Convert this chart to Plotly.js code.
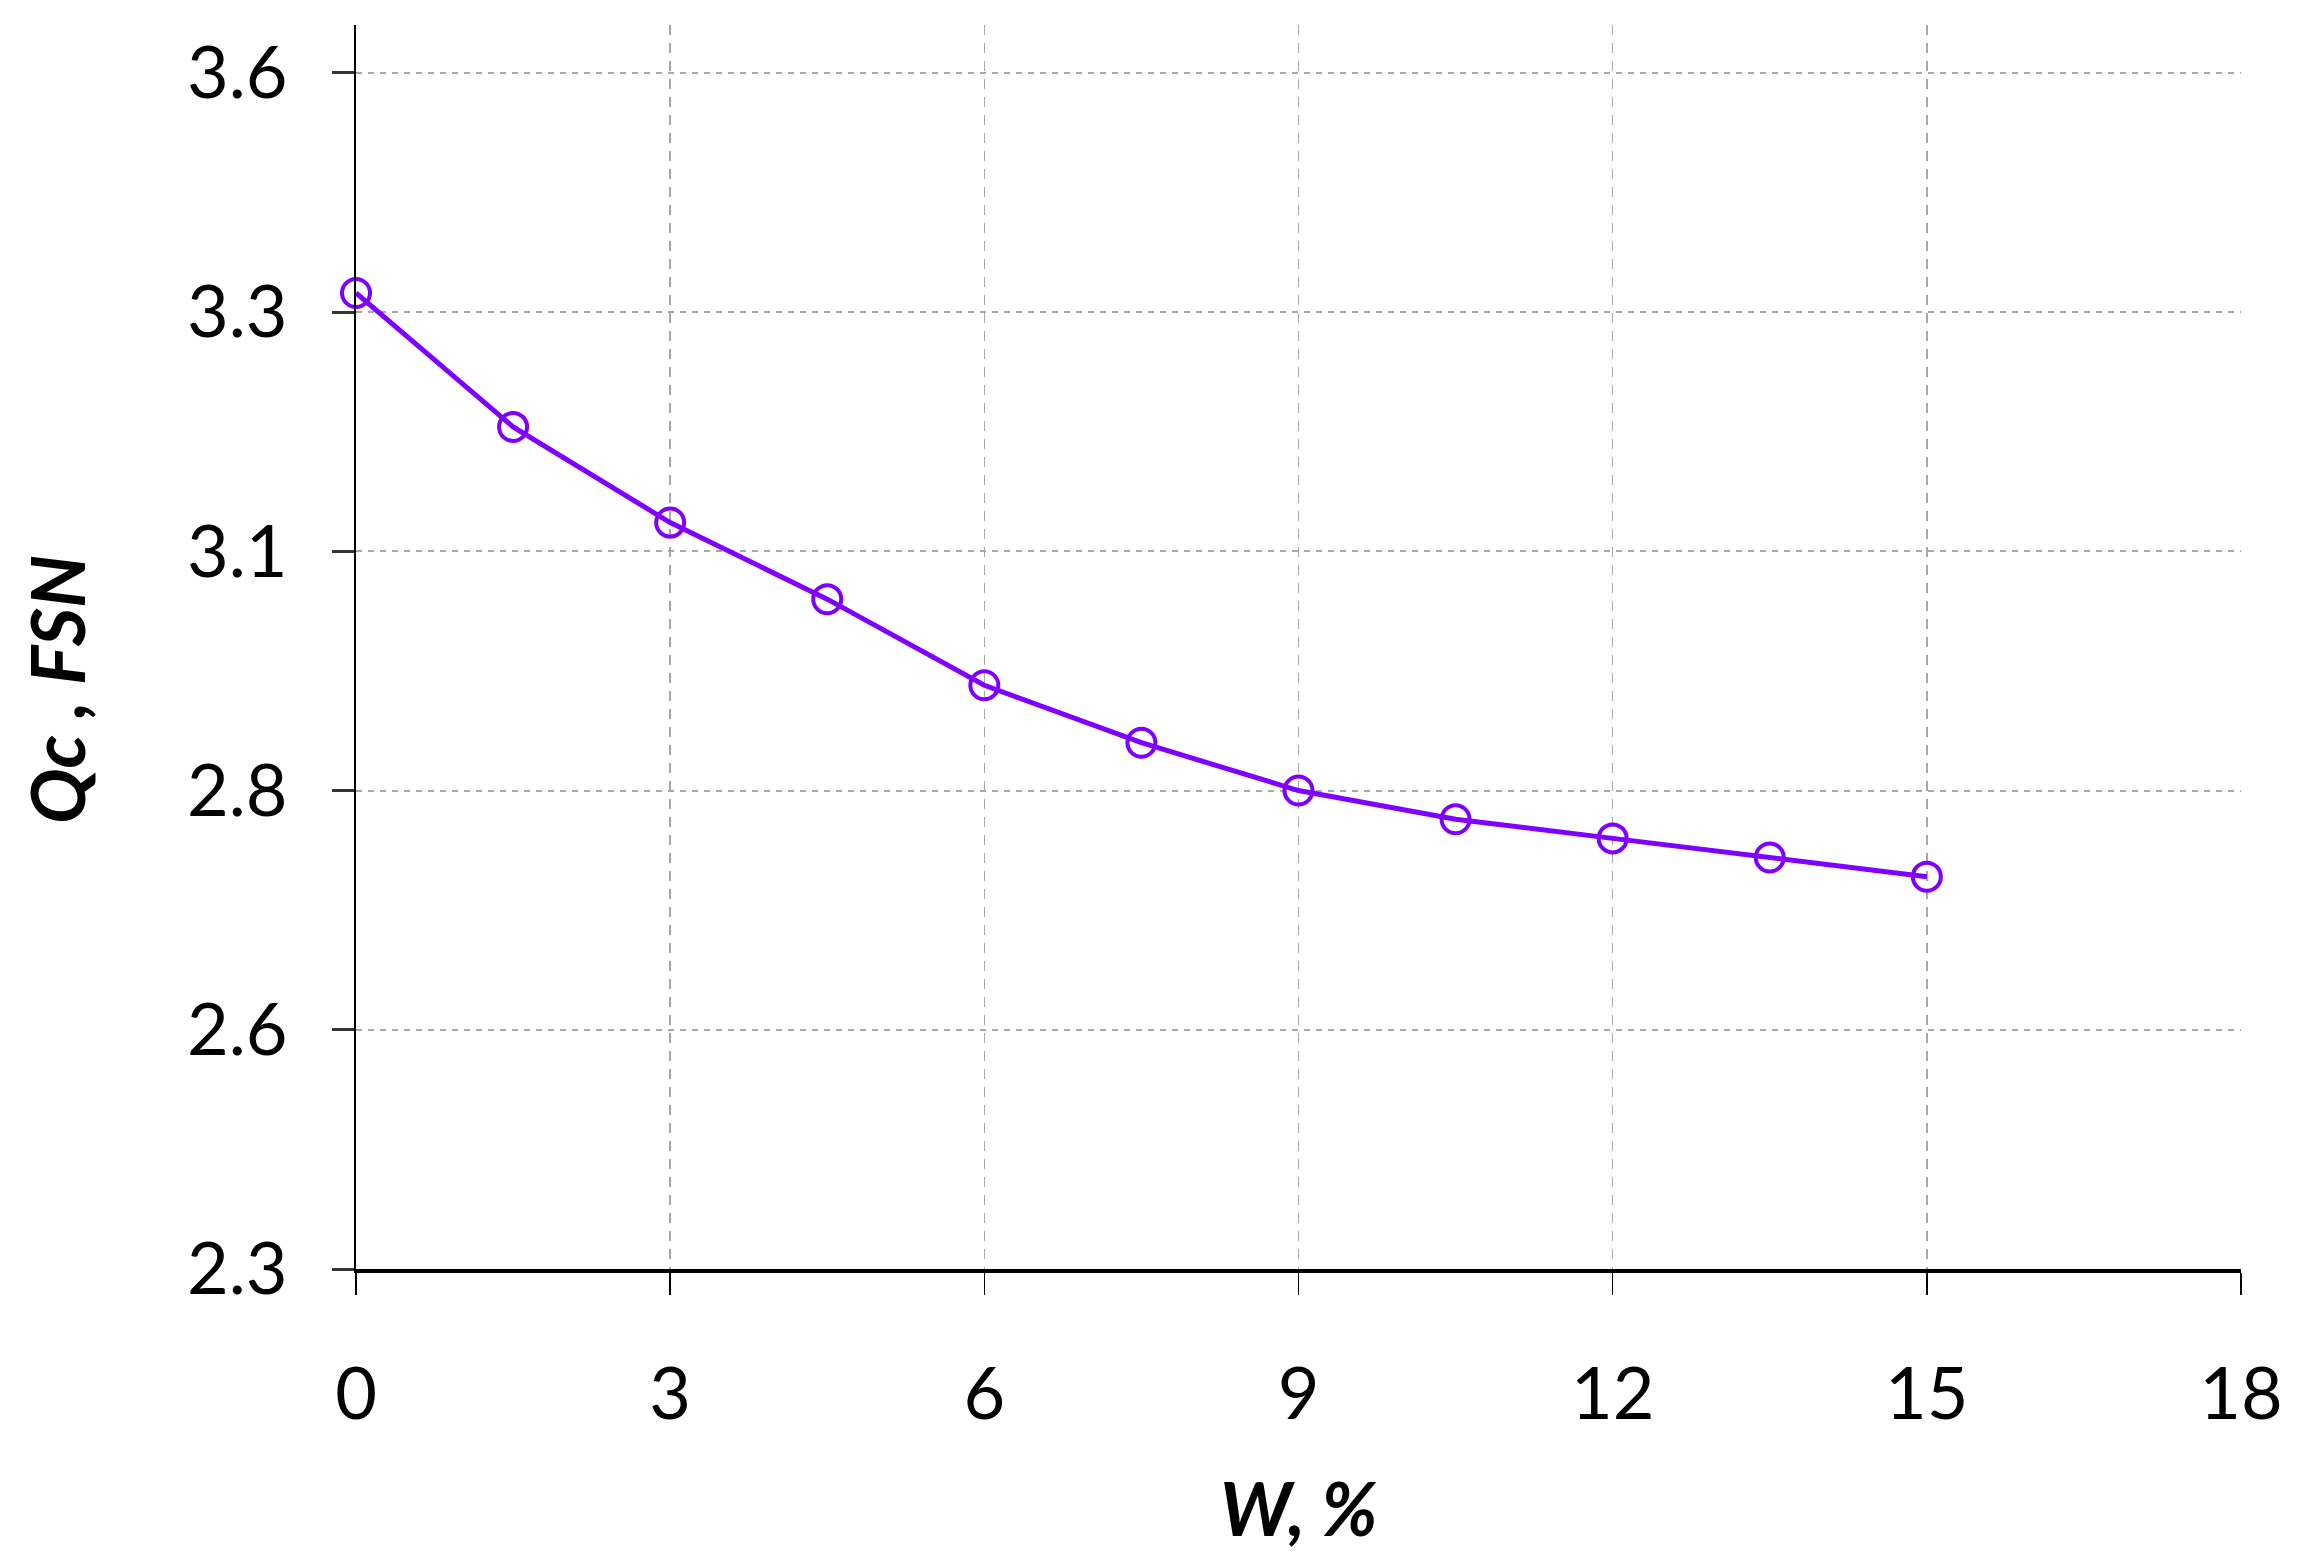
<!DOCTYPE html>
<html>
<head>
<meta charset="utf-8">
<script src="https://cdn.plot.ly/plotly-3.0.1.min.js"></script>
<style>html,body{margin:0;padding:0;background:#fff;}#chart{width:2300px;height:1564px;}</style>
</head>
<body>
<div id="chart"></div>
<script>
// Data
const wPercent = [0, 1.5, 3, 4.5, 6, 7.5, 9, 10.5, 12, 13.5, 15];
const qcFSN = [3.32, 3.18, 3.08, 3.00, 2.91, 2.85, 2.80, 2.77, 2.75, 2.73, 2.71];
const xTickVals = [0, 3, 6, 9, 12, 15, 18];
const yTickVals = [2.3, 2.55, 2.8, 3.05, 3.3, 3.55];
const yTickText = ["2.3", "2.6", "2.8", "3.1", "3.3", "3.6"];
const xTitle = "<b><i>W, %</i></b>";
const yTitle = "<b><i>Qc , FSN</i></b>";

const purple = "#7f00ff";
const fontFam = "Lato, 'Open Sans', sans-serif";

const trace = {
  x: wPercent,
  y: qcFSN,
  type: "scatter",
  mode: "lines+markers",
  line: {color: purple, width: 5},
  marker: {symbol: "circle-open", size: 28, color: purple, line: {width: 4, color: purple}},
  showlegend: false,
  cliponaxis: false
};

const layout = {
  width: 2300,
  height: 1564,
  paper_bgcolor: "#ffffff",
  plot_bgcolor: "#ffffff",
  margin: {l: 356, r: 59, t: 25, b: 295},
  font: {family: fontFam, color: "#000000", size: 72},
  xaxis: {
    range: [0, 18],
    tickvals: xTickVals,
    ticktext: xTickVals.map(String),
    showline: true, linecolor: "#000000", linewidth: 3.5,
    ticks: "outside", ticklen: 22, tickwidth: 1.5, tickcolor: "#000000",
    showgrid: true, gridcolor: "#a8a8a8", gridwidth: 1.5, griddash: "10px,8px",
    zeroline: false,
    tickfont: {family: fontFam, size: 72, color: "#000000"},
    ticklabelstandoff: 38,
    title: {text: ""}
  },
  yaxis: {
    range: [2.3, 3.6],
    tickvals: yTickVals,
    ticktext: yTickText,
    showline: true, linecolor: "#000000", linewidth: 2,
    ticks: "outside", ticklen: 22, tickwidth: 3, tickcolor: "#333333",
    showgrid: true, gridcolor: "#a8a8a8", gridwidth: 2, griddash: "6px,6px",
    zeroline: false,
    tickfont: {family: fontFam, size: 72, color: "#000000"},
    ticklabelstandoff: 30,
    title: {text: ""}
  },
  annotations: [
    {
      text: xTitle, xref: "paper", yref: "paper", x: 0.5, y: 0,
      xanchor: "center", yanchor: "middle", yshift: -238,
      showarrow: false, font: {family: fontFam, size: 74, color: "#000000"}
    },
    {
      text: yTitle, xref: "paper", yref: "paper", x: 0, y: 0.5,
      xanchor: "center", yanchor: "middle", xshift: -300, yshift: -43,
      textangle: -90,
      showarrow: false, font: {family: fontFam, size: 74, color: "#000000"}
    }
  ]
};

Plotly.newPlot("chart", [trace], layout, {staticPlot: true, displayModeBar: false});
</script>
</body>
</html>
